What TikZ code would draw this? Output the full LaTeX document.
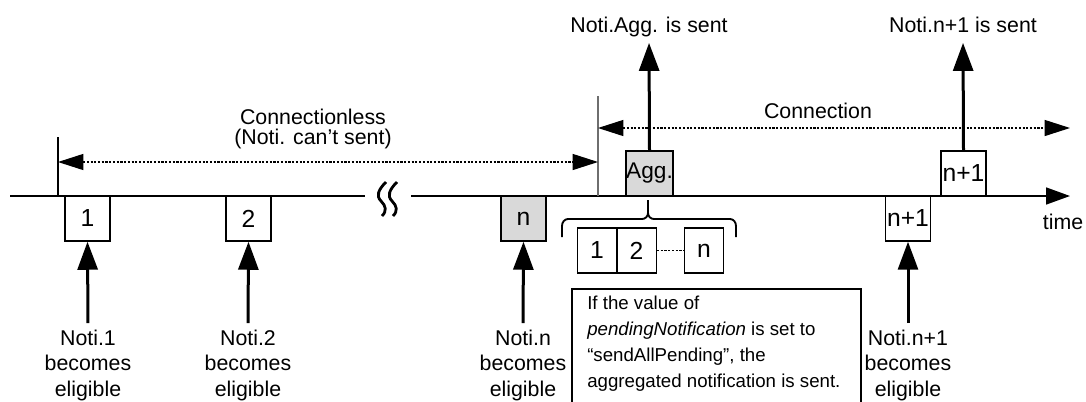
\documentclass[tikz,border=0pt]{standalone}
\usepackage{fontspec}
\setmainfont{Liberation Sans}
\usetikzlibrary{arrows.meta}
\definecolor{boxgray}{RGB}{217,217,217}
\definecolor{thingray}{RGB}{110,110,110}
\begin{document}
\begin{tikzpicture}[x=0.75pt,y=-0.75pt,
  lbl/.style={font=\fontsize{16pt}{19pt}\selectfont, inner sep=2pt, align=center},
  bx/.style={draw, line width=1.1pt, minimum width=33.75pt, minimum height=33.75pt, inner sep=0pt, font=\fontsize{18.5pt}{20pt}\selectfont},
  gbx/.style={bx, fill=boxgray},
  sbx/.style={bx, minimum width=29.6pt},
  bigarrow/.style={line width=2.25pt, -{Triangle[length=21pt,width=15pt]}},
  dimarrow/.style={line width=0.9pt, dash pattern=on 1.6pt off 1.2pt, {Triangle[length=19pt,width=12pt]}-{Triangle[length=19pt,width=12pt]}},
  timeline/.style={line width=1.2pt},
  tick/.style={line width=0.8pt},
  squig/.style={line width=2.1pt}
]
\useasboundingbox (0,0) rectangle (1086,401);

% timeline
\coordinate (t0) at (10,196);
\coordinate (t1) at (365,196);
\coordinate (t2) at (411,196);
\coordinate (t3) at (1070,196);
\draw[timeline] (t0) -- (t1);
\draw[timeline, -{Triangle[length=18pt,width=12.75pt]}] (t2) -- (t3);
\node[lbl, anchor=base] (time) at (1063,229) {time};

% break squiggle
\draw[squig] (386,182) .. controls (378,190) and (376,196) .. (381,201) .. controls (386,206) and (387,211) .. (382,216);
\draw[squig] (397,182) .. controls (389,190) and (387,196) .. (392,201) .. controls (397,206) and (398,211) .. (393,216);

% boxes on timeline
\node[bx] (b1) at (87.5,218.5) {1};
\node[bx] (b2) at (248.5,218.5) {2};
\node[gbx] (bn) at (523.5,218.5) {n};
\node[gbx, font=\fontsize{17pt}{20pt}\selectfont] (agg) at (649.5,173.5) {Agg.};
\node[bx] (np1low) at (908,218.5) {n+1};
\node[bx] (np1up) at (963.5,173.5) {n+1};

% labels below
\node[lbl, anchor=north] (l1) at (88,327) {Noti.1\\becomes\\eligible};
\node[lbl, anchor=north] (l2) at (248,327) {Noti.2\\becomes\\eligible};
\node[lbl, anchor=north] (ln) at (523,327) {Noti.n\\becomes\\eligible};
\node[lbl, anchor=north] (lnp1) at (908,327) {Noti.n+1\\becomes\\eligible};

\draw[bigarrow, shorten <=3pt] (l1.north) -- (b1.south);
\draw[bigarrow, shorten <=3pt] (l2.north) -- (b2.south);
\draw[bigarrow, shorten <=3pt] (ln.north) -- (bn.south);
\draw[bigarrow, shorten <=3pt] (lnp1.north -| np1low.south) -- (np1low.south);

% labels above
\node[lbl, anchor=base, text depth=0pt] (sagg) at (649,32) {Noti.Agg. is sent};
\node[lbl, anchor=base, text depth=0pt] (snp1) at (963,32) {Noti.n+1 is sent};
\draw[bigarrow, shorten >=6pt] (agg.north) -- (sagg.south);
\draw[bigarrow, shorten >=6pt] (np1up.north) -- (snp1.south);

% connectionless / connection dimension lines
\coordinate (vl0) at (58,137);
\coordinate (vl1) at (58,196);
\coordinate (vr0) at (598,96);
\coordinate (vr1) at (598,196);
\draw[tick] (vl0) -- (vl1);
\draw[tick, thingray] (vr0) -- (vr1);
\coordinate (cl0) at (58,162);
\coordinate (cl1) at (598,162);
\coordinate (cn0) at (598,128);
\coordinate (cn1) at (1070,128);
\draw[dimarrow] (cl0) -- (cl1);
\draw[dimarrow] (cn0) -- (cn1);
\node[font=\fontsize{16pt}{14.5pt}\selectfont, align=center, inner sep=0pt] (tcl) at (313,129) {Connectionless\\(Noti. can’t sent)};
\node[lbl] (tcn) at (818,111) {Connection};

% brace
\draw[line width=1.4pt] (562,237) -- (562,226) to[out=90,in=180] (568,219) -- (642,219) to[out=0,in=-90] (648,213) -- (648,200);
\draw[line width=1.4pt] (736,237) -- (736,226) to[out=90,in=0] (730,219) -- (654,219) to[out=180,in=-90] (648,213);

% aggregated boxes
\node[sbx] (a1) at (597,250.5) {1};
\node[sbx] (a2) at (636.5,250.5) {2};
\node[sbx] (an) at (704,250.5) {n};
\draw[line width=0.9pt, dash pattern=on 1.6pt off 1.2pt] (a2.east) -- (an.west);

% note box
\coordinate (nb0) at (572,402);
\coordinate (nb1) at (572,289);
\coordinate (nb2) at (861,289);
\coordinate (nb3) at (861,402);
\draw[line width=0.8pt] (nb0) -- (nb1) -- (nb2) -- (nb3);
\node[font=\fontsize{14pt}{19.5pt}\selectfont, align=left, anchor=north west, inner sep=0pt] (note) at (587,296) {If the value of\\\textit{pendingNotification} is set to\\“sendAllPending”, the\\aggregated notification is sent.};
\end{tikzpicture}
\end{document}
